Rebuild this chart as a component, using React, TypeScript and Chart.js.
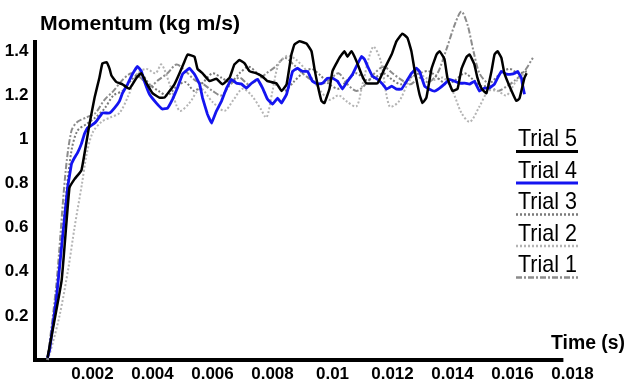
import React, { useEffect, useRef } from 'react';
import { Chart, registerables } from 'chart.js';

Chart.register(...registerables);

// ---- data: [time (s), momentum (kg m/s)] ----
const trial5: [number, number][] = [
  [0.0005, 0.01], [0.00097, 0.36], [0.00123, 0.78], [0.0014, 0.82], [0.00163, 0.86], [0.0018, 0.99],
  [0.0019, 1.07], [0.00207, 1.19], [0.00223, 1.28], [0.00233, 1.345], [0.00247, 1.35], [0.00257, 1.32],
  [0.00263, 1.29], [0.0028, 1.26], [0.003, 1.25], [0.00323, 1.23], [0.00347, 1.28], [0.00363, 1.3],
  [0.0038, 1.255], [0.004, 1.21], [0.00423, 1.19], [0.0044, 1.19], [0.00457, 1.22], [0.00473, 1.25],
  [0.0049, 1.3], [0.00507, 1.355], [0.00517, 1.385], [0.0054, 1.375], [0.0055, 1.32], [0.00567, 1.3],
  [0.0059, 1.265], [0.00613, 1.275], [0.00633, 1.25], [0.00657, 1.28], [0.00673, 1.34], [0.0069, 1.36],
  [0.00707, 1.345], [0.00723, 1.31], [0.00747, 1.3], [0.00767, 1.285], [0.00783, 1.265], [0.00813, 1.255],
  [0.0083, 1.22], [0.00847, 1.25], [0.00863, 1.385], [0.00873, 1.43], [0.0089, 1.445], [0.00913, 1.435],
  [0.0093, 1.4], [0.0094, 1.32], [0.0095, 1.25], [0.00963, 1.175], [0.00973, 1.165], [0.0099, 1.23],
  [0.01, 1.31], [0.01023, 1.37], [0.0104, 1.4], [0.0105, 1.375], [0.01063, 1.4], [0.0108, 1.355],
  [0.01097, 1.295], [0.01113, 1.255], [0.0115, 1.255], [0.01173, 1.32], [0.01197, 1.385], [0.01213, 1.445],
  [0.01233, 1.48], [0.0125, 1.46], [0.01263, 1.4], [0.01273, 1.32], [0.0129, 1.205], [0.013, 1.165],
  [0.01313, 1.19], [0.0133, 1.32], [0.01347, 1.385], [0.01357, 1.4], [0.01373, 1.365], [0.01383, 1.28],
  [0.014, 1.22], [0.01417, 1.23], [0.0143, 1.32], [0.01447, 1.375], [0.01457, 1.385], [0.01473, 1.34],
  [0.01483, 1.28], [0.01497, 1.23], [0.01513, 1.21], [0.0153, 1.31], [0.0154, 1.385], [0.0155, 1.4],
  [0.01563, 1.37], [0.01573, 1.3], [0.01597, 1.22], [0.01613, 1.175], [0.01623, 1.185], [0.0164, 1.28],
  [0.01647, 1.3],
];

const trial4: [number, number][] = [
  [0.0005, 0.01], [0.00057, 0.045], [0.0008, 0.284], [0.001, 0.555], [0.00117, 0.781], [0.0013, 0.889],
  [0.0014, 0.917], [0.0015, 0.939], [0.00163, 0.98], [0.00173, 1.025], [0.00183, 1.052], [0.00207, 1.074],
  [0.00213, 1.083], [0.00233, 1.12], [0.00257, 1.12], [0.00273, 1.142], [0.0029, 1.174], [0.003, 1.21],
  [0.00317, 1.251], [0.00333, 1.296], [0.0035, 1.332], [0.00363, 1.309], [0.00373, 1.264], [0.0039, 1.205],
  [0.00413, 1.165], [0.00433, 1.138], [0.0045, 1.142], [0.00467, 1.183], [0.00483, 1.233], [0.005, 1.296],
  [0.00523, 1.323], [0.0054, 1.296], [0.00557, 1.251], [0.00567, 1.187], [0.00583, 1.115], [0.00597, 1.074],
  [0.00613, 1.129], [0.0063, 1.174], [0.00647, 1.233], [0.00663, 1.273], [0.0068, 1.255], [0.00697, 1.251],
  [0.00713, 1.233], [0.0073, 1.255], [0.0075, 1.273], [0.00767, 1.233], [0.00783, 1.183], [0.008, 1.16],
  [0.00817, 1.187], [0.0083, 1.165], [0.00847, 1.205], [0.00867, 1.309], [0.00883, 1.323], [0.009, 1.309],
  [0.00917, 1.309], [0.00933, 1.264], [0.0095, 1.251], [0.00967, 1.255], [0.00983, 1.278], [0.01, 1.278],
  [0.01017, 1.264], [0.01033, 1.228], [0.0105, 1.264], [0.01067, 1.296], [0.01083, 1.341], [0.01097, 1.377],
  [0.01107, 1.363], [0.01117, 1.332], [0.01133, 1.287], [0.0115, 1.273], [0.01167, 1.251], [0.0118, 1.228],
  [0.01197, 1.242], [0.01213, 1.228], [0.0123, 1.228], [0.01247, 1.264], [0.01263, 1.3], [0.0128, 1.323],
  [0.0129, 1.309], [0.01307, 1.242], [0.01323, 1.228], [0.0134, 1.219], [0.01357, 1.233], [0.01373, 1.251],
  [0.0139, 1.273], [0.01407, 1.264], [0.01423, 1.255], [0.0144, 1.255], [0.01457, 1.251], [0.01473, 1.264],
  [0.0149, 1.219], [0.01507, 1.233], [0.01523, 1.233], [0.0154, 1.251], [0.0155, 1.278], [0.01563, 1.309],
  [0.0158, 1.296], [0.01597, 1.296], [0.01607, 1.3], [0.01617, 1.309], [0.0163, 1.278], [0.01633, 1.251],
  [0.0164, 1.205],
];

const trial3: [number, number][] = [
  [0.0005, 0.0], [0.0008, 0.3], [0.0011, 0.72], [0.0013, 0.95], [0.0015, 1.04], [0.0018, 1.07],
  [0.0021, 1.1], [0.0024, 1.14], [0.0027, 1.2], [0.003, 1.22], [0.0033, 1.27], [0.0036, 1.3],
  [0.0039, 1.25], [0.0042, 1.22], [0.0045, 1.2], [0.0048, 1.24], [0.0051, 1.26], [0.0054, 1.22],
  [0.0057, 1.26], [0.006, 1.3], [0.0063, 1.28], [0.0066, 1.26], [0.0069, 1.3], [0.0072, 1.33],
  [0.0075, 1.3], [0.0078, 1.27], [0.0081, 1.25], [0.0084, 1.22], [0.0087, 1.26], [0.009, 1.3],
  [0.0093, 1.32], [0.0096, 1.29], [0.0099, 1.25], [0.0102, 1.23], [0.0105, 1.27], [0.0108, 1.3],
  [0.0111, 1.27], [0.0114, 1.28], [0.0117, 1.3], [0.012, 1.27], [0.0123, 1.25], [0.0126, 1.28],
  [0.0129, 1.3], [0.0132, 1.31], [0.0135, 1.28], [0.0138, 1.25], [0.0141, 1.27], [0.0144, 1.3],
  [0.0147, 1.27], [0.015, 1.24], [0.0153, 1.26], [0.0156, 1.3], [0.0159, 1.32], [0.0162, 1.3],
  [0.0165, 1.31],
];

const trial2: [number, number][] = [
  [0.0005, 0.0], [0.0006, 0.04], [0.0009, 0.2], [0.0012, 0.42], [0.0014, 0.6], [0.00165, 0.8],
  [0.0018, 0.93], [0.002, 1.03], [0.0023, 1.08], [0.0026, 1.1], [0.0029, 1.12], [0.0032, 1.2],
  [0.0035, 1.3], [0.0038, 1.32], [0.0041, 1.3], [0.0043, 1.34], [0.0046, 1.24], [0.0049, 1.13],
  [0.0052, 1.16], [0.0056, 1.23], [0.006, 1.17], [0.0064, 1.13], [0.0067, 1.18], [0.007, 1.23],
  [0.0073, 1.2], [0.0076, 1.14], [0.0078, 1.1], [0.008, 1.22], [0.0082, 1.34], [0.0085, 1.38],
  [0.0088, 1.36], [0.0092, 1.3], [0.0096, 1.22], [0.0099, 1.18], [0.0102, 1.2], [0.0105, 1.17],
  [0.0108, 1.15], [0.011, 1.25], [0.01135, 1.42], [0.0116, 1.36], [0.0119, 1.15], [0.0122, 1.17],
  [0.0125, 1.25], [0.0128, 1.31], [0.0131, 1.28], [0.0134, 1.27], [0.0137, 1.28], [0.014, 1.22],
  [0.0143, 1.12], [0.01458, 1.08], [0.0149, 1.15], [0.0152, 1.22], [0.0155, 1.22], [0.0158, 1.2],
  [0.0161, 1.26], [0.0164, 1.3],
];

const trial1: [number, number][] = [
  [0.0005, 0.0], [0.0008, 0.35], [0.0011, 0.85], [0.0013, 1.04], [0.0015, 1.08], [0.0018, 1.1],
  [0.0021, 1.12], [0.0024, 1.18], [0.0027, 1.22], [0.003, 1.27], [0.0033, 1.3], [0.0036, 1.28],
  [0.0039, 1.24], [0.0042, 1.27], [0.0045, 1.3], [0.0048, 1.34], [0.0051, 1.31], [0.0054, 1.27],
  [0.0057, 1.25], [0.006, 1.22], [0.0063, 1.2], [0.0066, 1.25], [0.0069, 1.28], [0.0072, 1.25],
  [0.0075, 1.27], [0.0078, 1.3], [0.0081, 1.33], [0.0084, 1.37], [0.0087, 1.34], [0.009, 1.3],
  [0.0093, 1.27], [0.0096, 1.25], [0.0099, 1.27], [0.0102, 1.3], [0.0105, 1.25], [0.0108, 1.22],
  [0.0111, 1.25], [0.0114, 1.3], [0.0117, 1.33], [0.012, 1.3], [0.0123, 1.27], [0.0126, 1.25],
  [0.0129, 1.28], [0.0132, 1.26], [0.0135, 1.3], [0.0138, 1.41], [0.0141, 1.53], [0.0143, 1.58],
  [0.0145, 1.52], [0.0147, 1.4], [0.0149, 1.3], [0.0152, 1.25], [0.0155, 1.22], [0.0158, 1.24],
  [0.0161, 1.27], [0.0164, 1.31], [0.01668, 1.37],
];

const seriesLabels = ['Trial 5', 'Trial 4', 'Trial 3', 'Trial 2', 'Trial 1'];
const xTickValues = [0.002, 0.004, 0.006, 0.008, 0.01, 0.012, 0.014, 0.016, 0.018];
const yTickValues = [0.2, 0.4, 0.6, 0.8, 1, 1.2, 1.4];
const yAxisTitle = 'Momentum (kg m/s)';
const xAxisTitle = 'Time (s)';

const X_MIN = 0;
const X_MAX = 0.018;
const X_AXIS_END = 0.01768;
const Y_MIN = 0;
const Y_MAX = 1.451;

const FONT = "'Liberation Sans', Arial, sans-serif";

const decorPlugin = {
  id: 'decor',
  beforeDatasetsDraw(chart: any) {
    const { ctx, scales } = chart;
    const x = scales.x;
    const y = scales.y;
    const x0 = x.getPixelForValue(X_MIN);
    const yTop = y.getPixelForValue(Y_MAX);
    const y0 = y.getPixelForValue(Y_MIN);
    const xEnd = x.getPixelForValue(X_AXIS_END);
    ctx.save();
    ctx.fillStyle = '#000';
    ctx.fillRect(x0 + 0.5, yTop, 4, y0 - yTop + 2);
    ctx.fillRect(x0 + 0.5, y0 - 2, xEnd - x0, 4);
    ctx.restore();
  },
  afterDraw(chart: any) {
    const { ctx } = chart;
    ctx.save();
    ctx.fillStyle = '#000';
    ctx.textBaseline = 'alphabetic';
    ctx.textAlign = 'left';

    const fitText = (text: string, font: string, left: number, base: number, width: number) => {
      ctx.font = font;
      const w = ctx.measureText(text).width;
      ctx.save();
      ctx.translate(left, base);
      ctx.scale(width / w, 1);
      ctx.fillText(text, 0, 0);
      ctx.restore();
    };

    fitText(yAxisTitle, `bold 21px ${FONT}`, 40, 30, 200);
    fitText(xAxisTitle, `bold 20px ${FONT}`, 551, 349, 74);

    // legend: label text with a line sample underneath
    const datasets = chart.data.datasets;
    datasets.forEach((ds: any, i: number) => {
      const base = 146 + i * 31.5;
      fitText(ds.label, `24px ${FONT}`, 518, base, 59);
      ctx.save();
      ctx.strokeStyle = ds.borderColor;
      ctx.lineWidth = i < 2 ? 3 : 2.5;
      ctx.setLineDash(ds.borderDash || []);
      ctx.beginPath();
      ctx.moveTo(516, base + 5.5);
      ctx.lineTo(578, base + 5.5);
      ctx.stroke();
      ctx.restore();
    });
    ctx.restore();
  },
};

const toPoints = (arr: [number, number][]) => arr.map(([x, y]) => ({ x, y }));

export default function App() {
  const ref = useRef<HTMLCanvasElement | null>(null);

  useEffect(() => {
    if (!ref.current) return;
    const datasets = [
      { label: seriesLabels[0], data: toPoints(trial5), borderColor: '#000000', borderWidth: 2.5, tension: 0.1 },
      { label: seriesLabels[1], data: toPoints(trial4), borderColor: '#1414f0', borderWidth: 2.8, tension: 0.05 },
      { label: seriesLabels[2], data: toPoints(trial3), borderColor: '#7a7a7a', borderWidth: 2, borderDash: [2, 2], tension: 0.3 },
      { label: seriesLabels[3], data: toPoints(trial2), borderColor: '#b4b4b4', borderWidth: 2, borderDash: [2, 2], tension: 0.3 },
      { label: seriesLabels[4], data: toPoints(trial1), borderColor: '#8c8c8c', borderWidth: 2, borderDash: [6, 2, 2, 2], tension: 0.3 },
    ].map((d: any) => ({ ...d, pointRadius: 0, fill: false, clip: false }));

    const chart = new Chart(ref.current, {
      type: 'line',
      data: { datasets: datasets as any },
      options: {
        animation: false,
        responsive: false,
        devicePixelRatio: 1,
        layout: { padding: { left: 0, top: 40, right: 59.5, bottom: 0 } },
        plugins: { legend: { display: false }, tooltip: { enabled: false }, title: { display: false } },
        scales: {
          x: {
            type: 'linear',
            min: X_MIN,
            max: X_MAX,
            grid: { display: false, drawTicks: false },
            border: { display: false },
            afterFit: (s: any) => { s.height = 21; },
            afterBuildTicks: (s: any) => { s.ticks = xTickValues.map((v) => ({ value: v })); },
            ticks: {
              autoSkip: false,
              maxRotation: 0,
              padding: 4,
              color: '#000',
              font: { family: FONT, size: 17, weight: 'bold' },
              callback: (v: any) => String(parseFloat(Number(v).toFixed(3))),
            },
          },
          y: {
            type: 'linear',
            min: Y_MIN,
            max: Y_MAX,
            grid: { display: false, drawTicks: false },
            border: { display: false },
            afterFit: (s: any) => { s.width = 32.5; },
            afterBuildTicks: (s: any) => { s.ticks = yTickValues.map((v) => ({ value: v })); },
            ticks: {
              autoSkip: false,
              padding: 4,
              color: '#000',
              font: { family: FONT, size: 17, weight: 'bold' },
              callback: (v: any) => String(parseFloat(Number(v).toFixed(1))),
            },
          },
        },
      } as any,
      plugins: [decorPlugin],
    });
    return () => chart.destroy();
  }, []);

  return (
    <div style={{ position: 'fixed', left: 0, top: 0, width: 632, height: 381, background: '#fff' }}>
      <canvas ref={ref} width={632} height={381} />
    </div>
  );
}
